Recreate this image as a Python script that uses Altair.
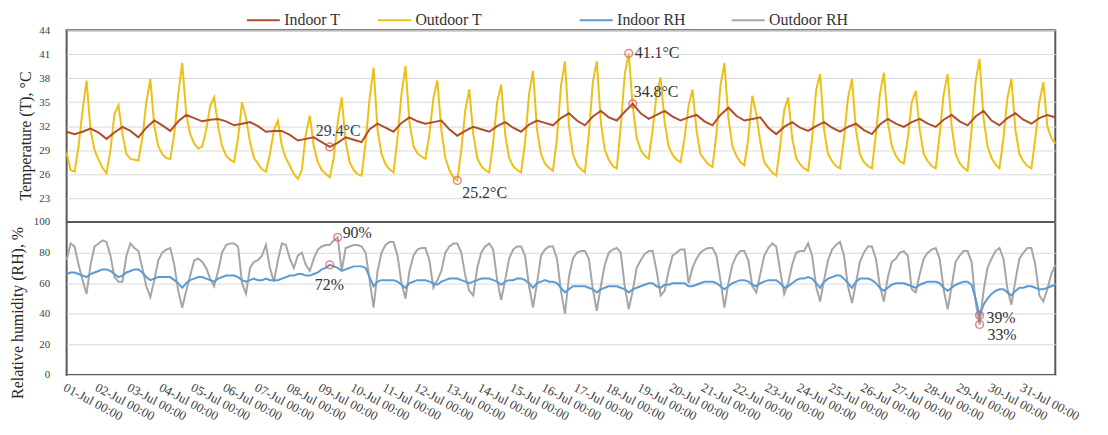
import altair as alt
import pandas as pd

START = "2019-07-01"

# Outdoor temperature, one row per day, samples at 00,03,06,09,12,15,18,21 h
OUT_T = [
    [28.7, 26.5, 26.3, 29.5, 34.0, 37.7, 31.5, 29.0],
    [27.8, 26.8, 26.1, 29.0, 33.5, 34.6, 31.0, 28.5],
    [27.9, 27.8, 27.7, 30.5, 35.0, 37.9, 32.0, 29.5],
    [28.5, 28.0, 27.9, 31.0, 36.0, 39.9, 33.5, 31.0],
    [29.8, 29.2, 29.4, 31.5, 34.5, 35.6, 32.0, 29.5],
    [28.3, 27.8, 27.5, 30.5, 35.0, 33.0, 30.0, 28.0],
    [27.3, 26.6, 26.3, 28.5, 31.5, 32.7, 29.5, 28.0],
    [27.0, 26.0, 25.4, 26.5, 31.0, 33.3, 29.5, 27.5],
    [26.5, 26.0, 25.6, 28.0, 32.5, 35.6, 30.0, 27.5],
    [26.5, 26.0, 25.8, 30.0, 35.5, 39.3, 31.5, 28.5],
    [27.2, 26.6, 26.2, 30.5, 36.0, 39.5, 32.5, 29.5],
    [28.6, 28.2, 27.9, 31.0, 35.5, 37.7, 31.5, 28.0],
    [26.5, 25.6, 25.2, 29.0, 34.0, 36.6, 31.0, 28.0],
    [27.0, 26.5, 26.2, 30.0, 35.0, 37.2, 31.0, 28.0],
    [27.0, 26.5, 26.2, 30.0, 36.0, 38.9, 31.5, 28.5],
    [27.3, 26.8, 26.4, 30.5, 37.0, 40.1, 32.0, 28.5],
    [27.2, 26.6, 26.2, 31.0, 37.5, 40.1, 32.5, 29.0],
    [27.8, 27.0, 26.7, 32.0, 38.5, 41.1, 34.5, 30.5],
    [29.0, 28.3, 27.9, 31.5, 36.0, 38.1, 32.5, 29.5],
    [28.4, 27.8, 27.5, 30.5, 34.5, 36.6, 31.5, 28.5],
    [27.8, 27.2, 26.9, 31.0, 37.0, 39.9, 33.0, 29.5],
    [28.3, 27.5, 27.1, 30.5, 35.8, 33.5, 30.0, 27.5],
    [26.8, 26.2, 25.8, 29.5, 34.0, 35.6, 30.5, 28.0],
    [27.2, 26.7, 26.4, 30.5, 36.5, 38.5, 31.5, 28.5],
    [27.6, 27.0, 26.7, 30.5, 35.5, 37.9, 31.5, 28.5],
    [27.5, 27.0, 26.7, 31.0, 36.0, 38.7, 32.5, 29.5],
    [28.3, 27.6, 27.3, 30.5, 35.0, 36.4, 31.5, 28.5],
    [27.6, 27.0, 26.7, 31.0, 36.0, 38.5, 32.0, 28.5],
    [27.4, 26.8, 26.4, 31.5, 37.5, 40.4, 33.0, 29.5],
    [28.0, 27.2, 26.7, 30.5, 35.5, 37.9, 31.5, 28.5],
    [27.6, 27.0, 26.7, 30.5, 35.0, 37.5, 32.0, 30.5],
]
OUT_T_END = 29.8

# Indoor temperature, samples at 00,06,12,18 h
IN_T = [
    [31.3, 31.0, 31.3, 31.7], [31.2, 30.4, 31.2, 31.9], [31.4, 30.6, 31.8, 32.7],
    [32.1, 31.4, 32.6, 33.4], [33.0, 32.6, 32.8, 32.9], [32.6, 32.1, 32.3, 32.5],
    [32.0, 31.3, 31.4, 31.4], [30.9, 30.2, 30.4, 30.6], [30.0, 29.4, 29.9, 30.6],
    [30.3, 30.0, 31.6, 32.3], [31.8, 31.3, 32.4, 33.1], [32.6, 32.3, 32.5, 32.7],
    [31.6, 30.8, 31.4, 31.9], [31.6, 31.3, 32.0, 32.5], [31.8, 31.3, 32.2, 32.7],
    [32.4, 32.1, 33.0, 33.6], [32.7, 32.1, 33.2, 33.9], [33.1, 32.7, 33.8, 34.8],
    [33.6, 32.9, 33.4, 33.9], [33.2, 32.7, 33.1, 33.4], [32.6, 32.1, 33.4, 34.3],
    [33.3, 32.7, 32.9, 33.1], [31.8, 31.0, 31.9, 32.5], [31.8, 31.4, 32.0, 32.5],
    [31.8, 31.3, 31.9, 32.3], [31.5, 31.0, 32.2, 32.9], [32.3, 31.9, 32.5, 32.9],
    [32.3, 31.9, 32.8, 33.4], [32.6, 32.1, 33.2, 33.9], [32.7, 32.1, 33.0, 33.6],
    [32.8, 32.3, 33.0, 33.4],
]
IN_T_END = 33.1

# Outdoor relative humidity, samples at 00,03,...,21 h
OUT_RH = [
    [75, 86, 84, 72, 62, 53, 72, 84],
    [86, 88, 87, 78, 64, 61, 61, 78],
    [86, 83, 81, 70, 58, 51, 62, 75],
    [80, 82, 83, 72, 55, 44, 55, 65],
    [75, 76, 74, 70, 63, 58, 68, 80],
    [85, 86, 86, 84, 60, 53, 70, 74],
    [75, 78, 85, 70, 61, 75, 86, 85],
    [76, 70, 78, 80, 72, 68, 76, 82],
    [84, 85, 85, 88, 90, 68, 83, 84],
    [85, 85, 84, 80, 62, 44, 68, 80],
    [85, 87, 87, 78, 60, 50, 68, 78],
    [82, 83, 83, 75, 57, 62, 68, 80],
    [84, 86, 86, 80, 65, 55, 52, 70],
    [80, 84, 86, 82, 62, 49, 62, 76],
    [82, 84, 84, 78, 58, 44, 60, 78],
    [82, 84, 84, 76, 55, 40, 64, 76],
    [80, 81, 81, 76, 56, 42, 58, 72],
    [80, 82, 83, 80, 58, 43, 55, 70],
    [75, 79, 81, 81, 68, 52, 55, 68],
    [78, 80, 82, 82, 60, 70, 76, 80],
    [82, 83, 83, 78, 62, 44, 60, 72],
    [78, 81, 81, 75, 58, 54, 66, 78],
    [83, 86, 84, 68, 53, 60, 72, 80],
    [81, 81, 86, 78, 58, 48, 62, 75],
    [82, 85, 87, 78, 58, 47, 60, 74],
    [80, 84, 84, 76, 58, 48, 64, 74],
    [76, 80, 81, 78, 56, 54, 66, 76],
    [80, 82, 83, 76, 56, 43, 58, 74],
    [78, 81, 81, 74, 48, 33, 55, 70],
    [76, 81, 83, 76, 56, 46, 62, 76],
    [80, 83, 83, 72, 52, 48, 56, 66],
]
OUT_RH_END = 72

# Indoor relative humidity, samples at 00,03,...,21 h
IN_RH = [
    [66, 67, 67, 66, 65, 64, 66, 67],
    [68, 69, 69, 68, 66, 64, 65, 67],
    [68, 69, 69, 67, 64, 62, 63, 64],
    [64, 64, 64, 62, 60, 57, 60, 62],
    [63, 64, 64, 63, 62, 61, 63, 64],
    [65, 65, 65, 64, 62, 61, 62, 63],
    [62, 62, 63, 62, 62, 62, 63, 64],
    [65, 65, 66, 66, 65, 65, 66, 67],
    [69, 70, 72, 71, 70, 68, 69, 70],
    [71, 71, 71, 70, 64, 58, 61, 62],
    [62, 62, 62, 61, 59, 57, 60, 61],
    [62, 62, 62, 61, 60, 59, 61, 62],
    [63, 63, 63, 62, 61, 60, 61, 62],
    [63, 63, 63, 62, 61, 59, 61, 62],
    [62, 63, 63, 62, 60, 57, 60, 61],
    [62, 61, 61, 60, 57, 54, 56, 58],
    [58, 58, 58, 57, 56, 54, 56, 57],
    [58, 58, 58, 57, 56, 54, 56, 57],
    [58, 59, 60, 60, 58, 57, 59, 59],
    [60, 60, 60, 60, 58, 58, 59, 60],
    [61, 61, 61, 60, 58, 56, 58, 60],
    [61, 62, 62, 61, 59, 58, 60, 61],
    [62, 62, 62, 60, 57, 58, 60, 62],
    [63, 63, 64, 63, 60, 57, 61, 63],
    [64, 65, 65, 63, 60, 57, 61, 63],
    [63, 63, 62, 60, 57, 55, 57, 59],
    [60, 60, 60, 59, 58, 57, 59, 60],
    [61, 61, 61, 60, 57, 55, 57, 59],
    [60, 61, 61, 59, 50, 39, 46, 50],
    [53, 55, 56, 56, 54, 52, 55, 57],
    [57, 58, 58, 57, 56, 56, 57, 58],
]
IN_RH_END = 59

T_NAMES = ["Indoor T", "Outdoor T"]
RH_NAMES = ["Indoor RH", "Outdoor RH"]
T_COLORS = ["#B04E2B", "#EEC015"]
RH_COLORS = ["#5B9BD5", "#A6A6A6"]

ANN_T_TEXT = ["41.1°C", "34.8°C", "29.4°C", "25.2°C"]
ANN_T_TIME = ["2019-07-18T15:00:00", "2019-07-18T18:00:00", "2019-07-09T06:00:00", "2019-07-13T06:00:00"]
ANN_T_VAL = [41.1, 34.8, 29.4, 25.2]
ANN_RH_TEXT = ["90%", "72%", "39%", "33%"]
ANN_RH_TIME = ["2019-07-09T12:00:00", "2019-07-09T06:00:00", "2019-07-29T15:00:00", "2019-07-29T15:00:00"]
ANN_RH_VAL = [90, 72, 39, 33]

T_TICKS = [23, 26, 29, 32, 35, 38, 41, 44]
RH_TICKS = [0, 20, 40, 60, 80, 100]


def series(rows, end, step_h, name):
    vals = [v for r in rows for v in r] + [end]
    t = pd.date_range(START, periods=len(vals), freq=f"{step_h}h")
    return pd.DataFrame({"t": t.strftime("%Y-%m-%dT%H:%M:%S"), "v": vals, "s": name})


df_out_t = series(OUT_T, OUT_T_END, 3, "Outdoor T")
df_in_t = series(IN_T, IN_T_END, 6, "Indoor T")
df_out_rh = series(OUT_RH, OUT_RH_END, 3, "Outdoor RH")
df_in_rh = series(IN_RH, IN_RH_END, 3, "Indoor RH")

ann_t = pd.DataFrame({"t": ANN_T_TIME, "v": ANN_T_VAL, "lab": ANN_T_TEXT})
ann_rh = pd.DataFrame({"t": ANN_RH_TIME, "v": ANN_RH_VAL, "lab": ANN_RH_TEXT})

W, H = 995, 347
H_T = 193

FONT = "Liberation Serif"
FRAME = "#595959"
GRID = "#D9D9D9"
MARK_RED = "#D9534F"
TXT = "#333333"

x_axis = alt.Axis(
    values=[alt.DateTime(year=2019, month=7, date=d) for d in range(1, 32)],
    format="%d-%b %H:%M", labelAngle=28, labelAlign="left", labelBaseline="top",
    labelPadding=6, labelOverlap=False, labelFlush=False, labelFontSize=13,
    labelColor="#404040", labelFont=FONT, ticks=False, domain=False, grid=False, title=None,
)
x_enc = alt.X("t:T", axis=x_axis,
              scale=alt.Scale(domain=[alt.DateTime(year=2019, month=7, date=1),
                                      alt.DateTime(year=2019, month=8, date=1)]))

y_t_scale = alt.Scale(domain=[20, 44], range=[H_T, 0], nice=False, zero=False)
y_rh_scale = alt.Scale(domain=[0, 100], range=[H, H_T], nice=False, zero=False)

y_t_axis = alt.Axis(values=T_TICKS, orient="left", title="Temperature (T), °C",
                    ticks=False, domain=False, labelPadding=17, titlePadding=5,
                    titleY=106, gridColor=GRID, grid=True)
y_rh_axis = alt.Axis(values=RH_TICKS, orient="left", title="Relative humidity (RH), %",
                     ticks=False, domain=False, labelPadding=17, titlePadding=8,
                     titleY=284, gridColor=GRID, grid=True)

legend_common = dict(orient="none", legendY=-28, direction="horizontal", title=None,
                     symbolType="stroke", symbolSize=1100, symbolStrokeWidth=2,
                     labelOffset=3, padding=0, labelFontSize=16, labelFont=FONT,
                     labelColor=TXT)
t_stroke = alt.Stroke("s:N", scale=alt.Scale(domain=T_NAMES, range=T_COLORS),
                      legend=alt.Legend(legendX=180, columnPadding=33, **legend_common))
rh_color = alt.Color("s:N", scale=alt.Scale(domain=RH_NAMES, range=RH_COLORS),
                     legend=alt.Legend(legendX=515, columnPadding=42, **legend_common))

out_t_line = alt.Chart(df_out_t).mark_line(strokeWidth=2).encode(
    x=x_enc, y=alt.Y("v:Q", scale=y_t_scale, axis=y_t_axis), stroke=t_stroke)
in_t_line = alt.Chart(df_in_t).mark_line(strokeWidth=2).encode(
    x=x_enc, y=alt.Y("v:Q"), stroke=t_stroke)
t_pts = alt.Chart(ann_t).mark_point(shape="circle", filled=False, size=60, strokeWidth=1.5,
                                    color=MARK_RED).encode(x=x_enc, y="v:Q")


def ann_text(df, label, dx, dy, color=TXT):
    return alt.Chart(df).transform_filter(alt.datum.lab == label).mark_text(
        align="left", baseline="middle", dx=dx, dy=dy, font=FONT, fontSize=16, color=color
    ).encode(x=x_enc, y="v:Q", text="lab:N")


t_layer = alt.layer(
    out_t_line, in_t_line, t_pts,
    ann_text(ann_t, "41.1°C", 6, 0),
    ann_text(ann_t, "34.8°C", 1, -12),
    ann_text(ann_t, "29.4°C", -14, -16, "#2F3E60"),
    ann_text(ann_t, "25.2°C", 5, 13),
)

out_rh_line = alt.Chart(df_out_rh).mark_line(strokeWidth=2).encode(
    x=x_enc, y=alt.Y("v:Q", scale=y_rh_scale, axis=y_rh_axis), color=rh_color)
in_rh_line = alt.Chart(df_in_rh).mark_line(strokeWidth=2).encode(
    x=x_enc, y=alt.Y("v:Q"), color=rh_color)
sep = alt.Chart(pd.DataFrame({"v": [100]})).mark_rule(color=FRAME, strokeWidth=2).encode(y="v:Q")
rh_pts = alt.Chart(ann_rh).mark_point(shape="circle", filled=False, size=60, strokeWidth=1.5,
                                      color=MARK_RED).encode(x=x_enc, y="v:Q")

rh_layer = alt.layer(
    out_rh_line, in_rh_line, sep, rh_pts,
    ann_text(ann_rh, "90%", 5, -4),
    ann_text(ann_rh, "72%", -15, 20),
    ann_text(ann_rh, "39%", 7, 3),
    ann_text(ann_rh, "33%", 8, 11),
)

chart = alt.layer(t_layer, rh_layer).resolve_scale(y="independent").properties(
    width=W, height=H,
    autosize=alt.AutoSizeParams(type="none"),
    padding={"left": 59, "top": 21, "right": 45, "bottom": 60},
).configure_view(stroke=FRAME, strokeWidth=2).configure_axis(
    labelFont=FONT, titleFont=FONT, labelFontSize=11, titleFontSize=16,
    labelColor="#404040", titleColor="#262626", titleFontWeight="normal",
).configure_legend(labelFont=FONT)

chart.save("out.html", embed_options={"renderer": "svg", "actions": False})
